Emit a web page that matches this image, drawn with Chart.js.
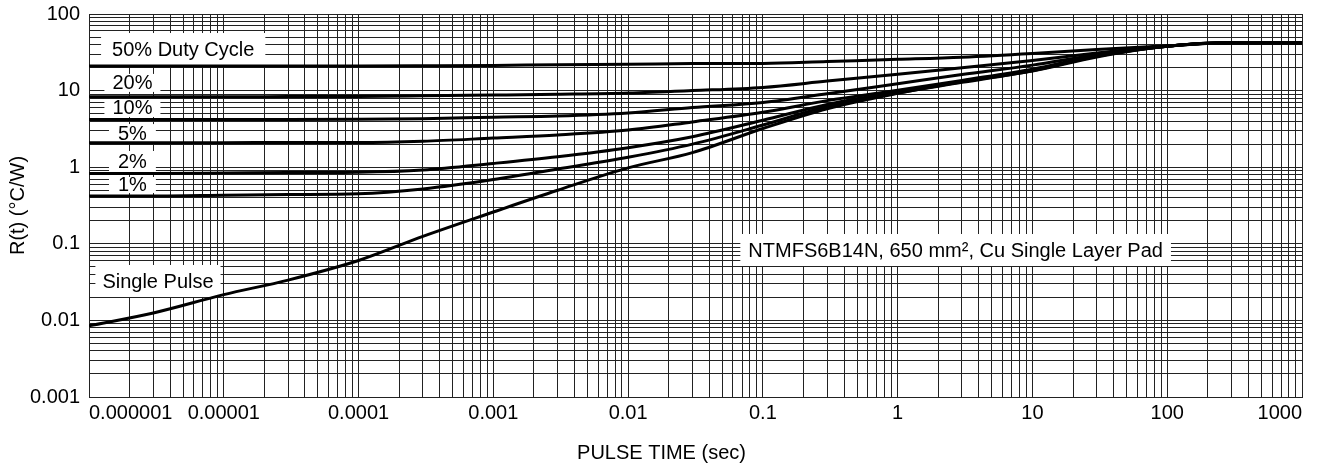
<!DOCTYPE html>
<html>
<head>
<meta charset="utf-8">
<script src="https://cdn.jsdelivr.net/npm/chart.js@4.4.1/dist/chart.umd.min.js"></script>
<style>
html, body { margin: 0; padding: 0; background: #fff; }
#wrap { width: 1323px; height: 468px; }
</style>
</head>
<body>
<div id="wrap"><canvas id="c" width="1323" height="468"></canvas></div>
<script>
// ---- data ----
const pulseTime = [1e-6, 3e-6, 1e-5, 3e-5, 1e-4, 3e-4, 1e-3, 3e-3, 1e-2, 3e-2, 0.1, 0.3, 1, 3, 10, 30, 100, 300, 1000];
const duty50  = [21, 21, 21, 21, 21, 21.1, 21.3, 21.8, 22, 22.5, 22.6, 24, 25.6, 27.3, 30.5, 34.5, 38.5, 42, 42];
const duty20  = [8.3, 8.3, 8.3, 8.35, 8.4, 8.55, 8.75, 8.96, 9.3, 10.0, 11.0, 13.3, 16.3, 19.9, 24.8, 31, 38.2, 42, 42];
const duty10  = [4.2, 4.2, 4.2, 4.2, 4.22, 4.3, 4.5, 4.66, 5.1, 6.0, 7.0, 9.1, 12.3, 16.2, 21.5, 29.5, 38, 42, 42];
const duty5   = [2.09, 2.09, 2.09, 2.1, 2.1, 2.18, 2.4, 2.63, 3.05, 3.9, 5.2, 7.4, 10.1, 13.6, 19, 28.6, 38, 42, 42];
const duty2   = [0.83, 0.83, 0.84, 0.85, 0.86, 0.92, 1.12, 1.37, 1.8, 2.5, 4.1, 6.6, 9.6, 13.2, 18.5, 28.3, 38, 42, 42];
const duty1   = [0.42, 0.42, 0.43, 0.44, 0.45, 0.52, 0.69, 0.95, 1.35, 2.0, 3.55, 6.2, 9.3, 12.8, 18.2, 28, 38, 42, 42];
const single  = [0.0085, 0.0125, 0.0217, 0.0336, 0.0605, 0.125, 0.26, 0.5, 0.98, 1.55, 3.2, 5.8, 9.2, 13, 18, 27.5, 38, 42, 42];

const seriesNames = ['50% Duty Cycle', '20%', '10%', '5%', '2%', '1%', 'Single Pulse'];
const seriesValues = [duty50, duty20, duty10, duty5, duty2, duty1, single];

const xDecades = [1e-6, 1e-5, 1e-4, 1e-3, 1e-2, 1e-1, 1, 10, 100, 1000];
const xTickLabels = ['0.000001', '0.00001', '0.0001', '0.001', '0.01', '0.1', '1', '10', '100', '1000'];
const yDecades = [0.001, 0.01, 0.1, 1, 10, 100];
const yTickLabels = ['0.001', '0.01', '0.1', '1', '10', '100'];

const xTitle = 'PULSE TIME (sec)';
const yTitle = 'R(t) (\u00B0C/W)';

// in-plot labels (anchored in data coordinates)
const noteText  = ['50% Duty Cycle', '20%', '10%', '5%', '2%', '1%', 'Single Pulse', 'NTMFS6B14N, 650 mm\u00B2, Cu Single Layer Pad'];
const noteT     = [5.0e-6, 2.1e-6, 2.1e-6, 2.1e-6, 2.1e-6, 2.1e-6, 3.25e-6, 0.078];
const noteR     = [34.9, 12.6, 5.93, 2.79, 1.17, 0.586, 0.0327, 0.083];
const noteAlign = ['center', 'center', 'center', 'center', 'center', 'center', 'center', 'left'];
const notePadX  = [11, 8, 8, 9, 9, 9, 7, 8];
const noteHalfH = [16, 9, 9, 9, 11, 8, 16, 16];

// ---- chart ----
const FONT = '"Liberation Sans", Arial, Helvetica, sans-serif';
Chart.defaults.font.family = FONT;
Chart.defaults.font.size = 20;
Chart.defaults.color = '#000';

function logTicks(decades) {
  const out = [];
  for (let i = 0; i < decades.length - 1; i++) {
    for (let m = 1; m < 10; m++) out.push({ value: m * decades[i] });
  }
  out.push({ value: decades[decades.length - 1] });
  return out;
}
function decadeLabel(v, decades, labels) {
  for (let i = 0; i < decades.length; i++) {
    if (Math.abs(v / decades[i] - 1) < 1e-6) return labels[i];
  }
  return '';
}

const notesPlugin = {
  id: 'notes',
  beforeDatasetsDraw(chart) {
    const { ctx, scales: { x, y } } = chart;
    ctx.save();
    ctx.font = '20px ' + FONT;
    ctx.textBaseline = 'middle';
    ctx.textAlign = 'left';
    noteText.forEach((txt, i) => {
      const px = x.getPixelForValue(noteT[i]);
      const py = y.getPixelForValue(noteR[i]);
      const w = ctx.measureText(txt).width;
      const left = noteAlign[i] === 'left' ? px : px - w / 2;
      ctx.fillStyle = '#fff';
      ctx.fillRect(left - notePadX[i], py - noteHalfH[i], w + 2 * notePadX[i], 2 * noteHalfH[i]);
      ctx.fillStyle = '#000';
      ctx.fillText(txt, left, py + 1);
    });
    ctx.restore();
  }
};

const datasets = seriesNames.map((name, i) => ({
  label: name,
  data: pulseTime.map((t, j) => ({ x: t, y: seriesValues[i][j] })),
  borderColor: '#000',
  backgroundColor: '#000',
  borderWidth: 3,
  pointRadius: 0,
  showLine: true,
  fill: false,
  cubicInterpolationMode: 'monotone'
}));

new Chart(document.getElementById('c'), {
  type: 'scatter',
  data: { datasets },
  options: {
    responsive: false,
    animation: false,
    layout: { padding: { top: 14, right: 0, left: 0, bottom: 0 } },
    plugins: {
      legend: { display: false },
      tooltip: { enabled: false },
      title: {
        display: true,
        position: 'bottom',
        text: xTitle,
        color: '#000',
        font: { size: 20, weight: 'normal', family: FONT },
        padding: { top: 4, bottom: 3 }
      }
    },
    scales: {
      x: {
        type: 'logarithmic',
        min: xDecades[0],
        max: xDecades[xDecades.length - 1],
        afterBuildTicks: (s) => { s.ticks = logTicks(xDecades); },
        afterFit: (s) => { s.height = 40; s.paddingLeft = 0; s.paddingRight = 21; },
        ticks: {
          autoSkip: false,
          maxRotation: 0,
          minRotation: 0,
          padding: 4,
          align: 'inner',
          color: '#000',
          font: { size: 20 },
          callback: (v) => decadeLabel(v, xDecades, xTickLabels)
        },
        grid: { color: '#222', lineWidth: 1, drawTicks: false },
        border: { display: true, color: '#222', width: 1 },
        title: { display: false }
      },
      y: {
        type: 'logarithmic',
        min: yDecades[0],
        max: yDecades[yDecades.length - 1],
        afterBuildTicks: (s) => { s.ticks = logTicks(yDecades); },
        afterFit: (s) => { s.width = 89; s.paddingTop = 0; s.paddingBottom = 0; },
        ticks: {
          autoSkip: false,
          padding: 9,
          color: '#000',
          font: { size: 20 },
          callback: (v) => decadeLabel(v, yDecades, yTickLabels)
        },
        grid: { color: '#222', lineWidth: 1, drawTicks: false },
        border: { display: true, color: '#222', width: 1 },
        title: {
          display: true,
          text: yTitle,
          color: '#000',
          font: { size: 20, family: FONT },
          padding: { top: 6, bottom: 0 }
        }
      }
    }
  },
  plugins: [notesPlugin]
});
</script>
</body>
</html>
